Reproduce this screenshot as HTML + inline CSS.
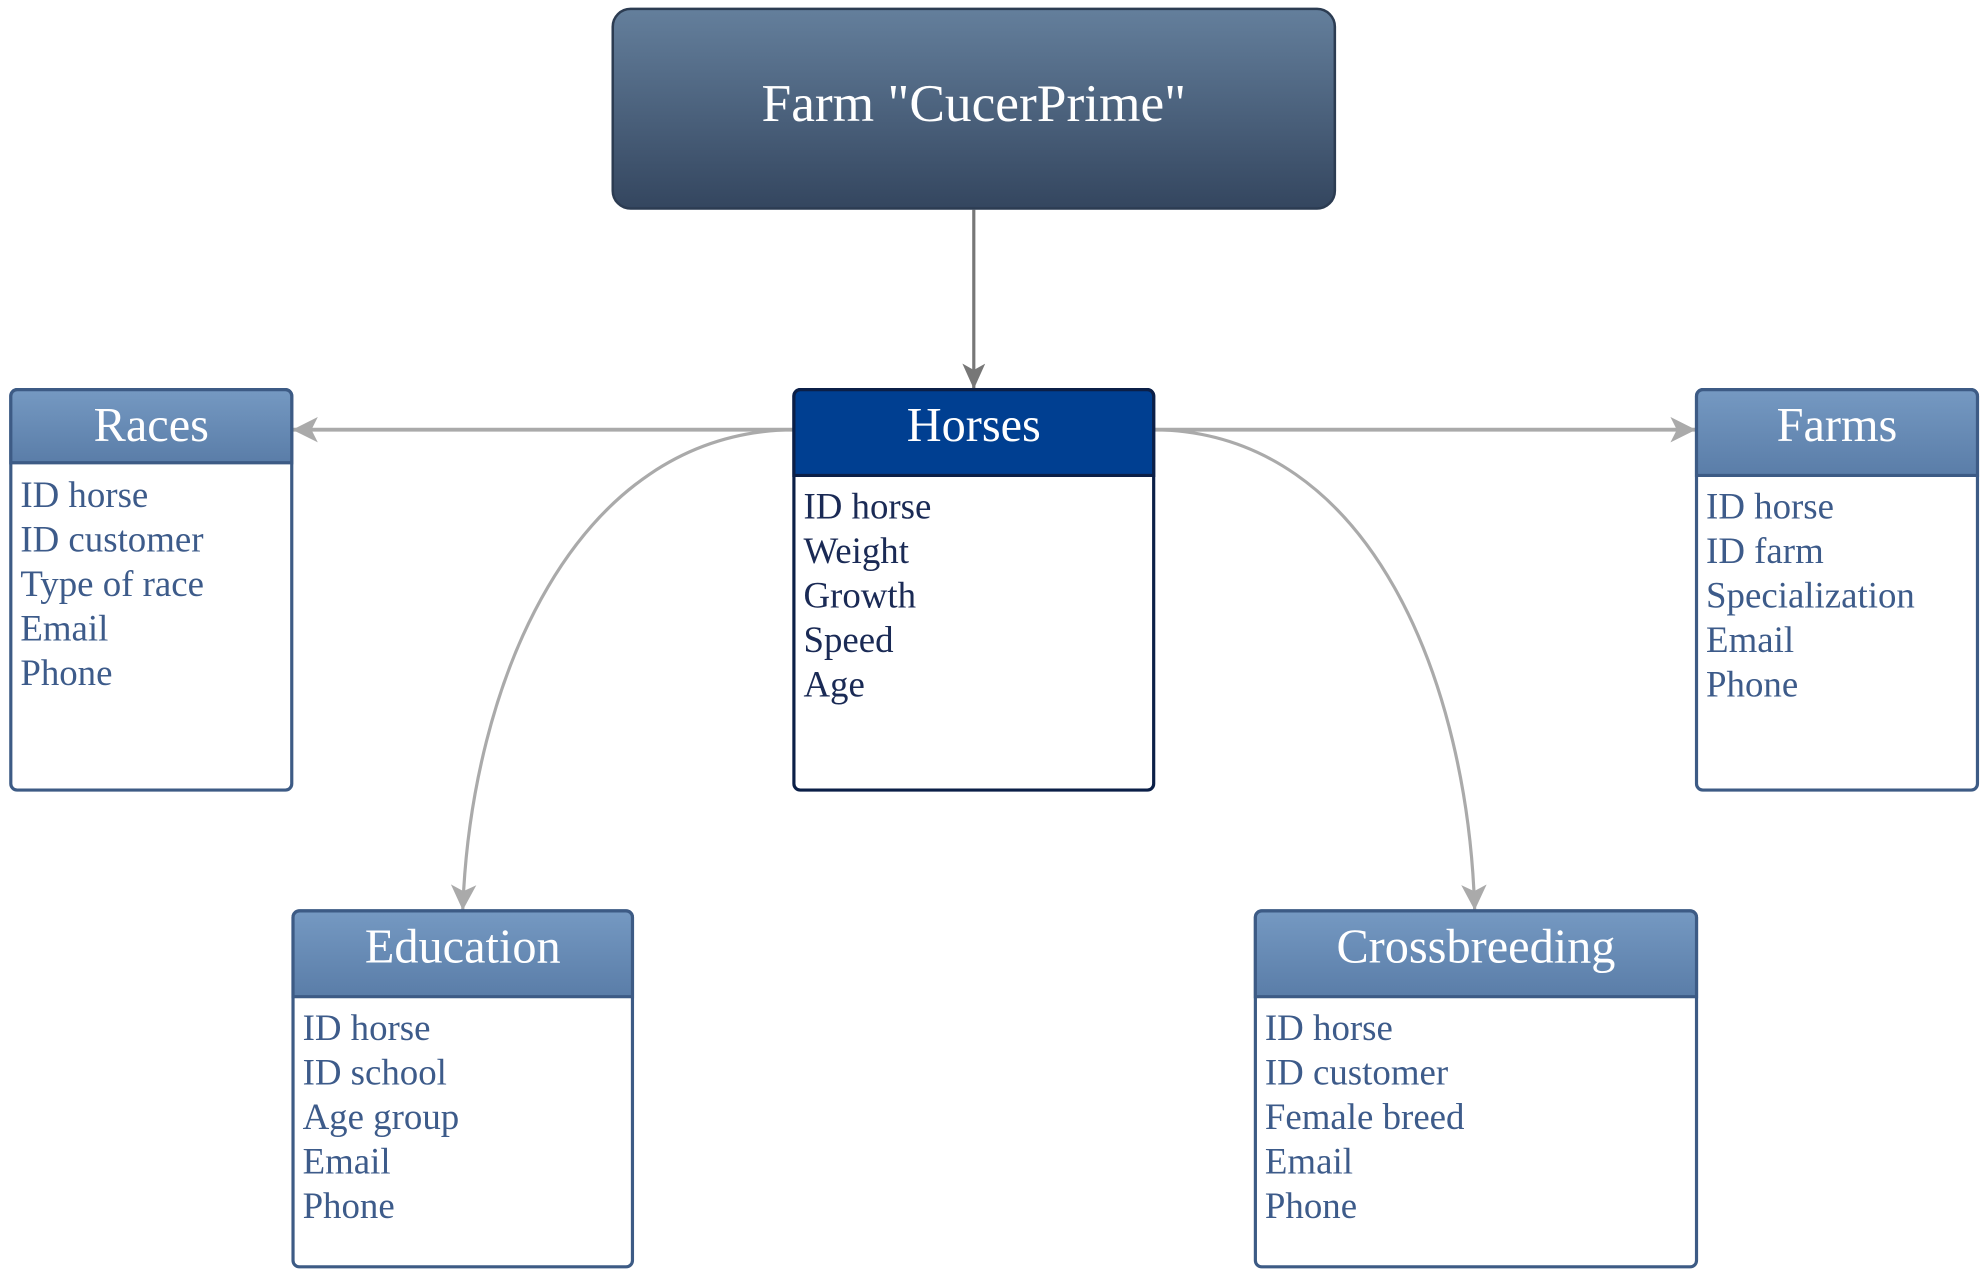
<!DOCTYPE html>
<html><head><meta charset="utf-8"><style>
html,body{margin:0;padding:0;background:#fff;width:1987px;height:1270px;overflow:hidden}
svg{display:block}
text{font-family:"Liberation Serif",serif}
</style></head><body>
<svg width="1987" height="1270" viewBox="0 0 1563 999" preserveAspectRatio="none">
<defs>
<linearGradient id="top" x1="0" y1="0" x2="0" y2="1"><stop offset="0" stop-color="#647f9c"/><stop offset="1" stop-color="#34465f"/></linearGradient>
<linearGradient id="hd" x1="0" y1="0" x2="0" y2="1"><stop offset="0" stop-color="#7599c2"/><stop offset="1" stop-color="#5a7da8"/></linearGradient>
<marker id="ad" markerWidth="22" markerHeight="18" refX="20" refY="9" orient="auto" markerUnits="userSpaceOnUse"><path d="M0,0 L20,9 L0,18 L5,9 z" fill="#777"/></marker>
<marker id="al" markerWidth="22" markerHeight="20" refX="20" refY="10" orient="auto" markerUnits="userSpaceOnUse"><path d="M0,0 L20,10 L0,20 L5,10 z" fill="#aaa"/></marker>
</defs>
<line x1="766" y1="165" x2="766" y2="306" stroke="#777" stroke-width="2.5" marker-end="url(#ad)"/>
<line x1="624" y1="338" x2="230" y2="338" stroke="#aaa" stroke-width="3" marker-end="url(#al)"/>
<line x1="908" y1="338" x2="1334" y2="338" stroke="#aaa" stroke-width="3" marker-end="url(#al)"/>
<path d="M624,338 C450,340 370,540 364,716" fill="none" stroke="#aaa" stroke-width="2.5" marker-end="url(#al)"/>
<path d="M908,338 C1080,340 1155,540 1160,716" fill="none" stroke="#aaa" stroke-width="2.5" marker-end="url(#al)"/>
<rect x="482" y="7" width="568" height="157" rx="14" fill="url(#top)" stroke="#2c3c52" stroke-width="2"/>
<text x="766" y="95" font-size="42" fill="#fff" text-anchor="middle">Farm "CucerPrime"</text>
<rect x="624.5" y="306.5" width="283" height="315" rx="5" fill="#fff" stroke="#0b1f47" stroke-width="2.5"/>
<path d="M624.5,374 V311.5 a5,5 0 0 1 5,-5 H902.5 a5,5 0 0 1 5,5 V374 z" fill="#003f91" stroke="#0b1f47" stroke-width="2.5"/>
<text x="766" y="347" font-size="38" fill="#fff" text-anchor="middle">Horses</text>
<g font-size="29" fill="#1a2a55"><text x="632" y="408">ID horse</text><text x="632" y="443">Weight</text><text x="632" y="478">Growth</text><text x="632" y="513">Speed</text><text x="632" y="548">Age</text></g>
<rect x="8.5" y="306.5" width="221" height="315" rx="5" fill="#fff" stroke="#3d5b85" stroke-width="2.5"/>
<path d="M8.5,364 V311.5 a5,5 0 0 1 5,-5 H224.5 a5,5 0 0 1 5,5 V364 z" fill="url(#hd)" stroke="#3d5b85" stroke-width="2.5"/>
<text x="119" y="347" font-size="38" fill="#fff" text-anchor="middle">Races</text>
<g font-size="29" fill="#3d5b8a"><text x="16" y="399">ID horse</text><text x="16" y="434">ID customer</text><text x="16" y="469">Type of race</text><text x="16" y="504">Email</text><text x="16" y="539">Phone</text></g>
<rect x="1334.5" y="306.5" width="221" height="315" rx="5" fill="#fff" stroke="#3d5b85" stroke-width="2.5"/>
<path d="M1334.5,374 V311.5 a5,5 0 0 1 5,-5 H1550.5 a5,5 0 0 1 5,5 V374 z" fill="url(#hd)" stroke="#3d5b85" stroke-width="2.5"/>
<text x="1445" y="347" font-size="38" fill="#fff" text-anchor="middle">Farms</text>
<g font-size="29" fill="#3d5b8a"><text x="1342" y="408">ID horse</text><text x="1342" y="443">ID farm</text><text x="1342" y="478">Specialization</text><text x="1342" y="513">Email</text><text x="1342" y="548">Phone</text></g>
<rect x="230.5" y="716.5" width="267" height="280" rx="5" fill="#fff" stroke="#3d5b85" stroke-width="2.5"/>
<path d="M230.5,784 V721.5 a5,5 0 0 1 5,-5 H492.5 a5,5 0 0 1 5,5 V784 z" fill="url(#hd)" stroke="#3d5b85" stroke-width="2.5"/>
<text x="364" y="757" font-size="38" fill="#fff" text-anchor="middle">Education</text>
<g font-size="29" fill="#3d5b8a"><text x="238" y="818">ID horse</text><text x="238" y="853">ID school</text><text x="238" y="888">Age group</text><text x="238" y="923">Email</text><text x="238" y="958">Phone</text></g>
<rect x="987.5" y="716.5" width="347" height="280" rx="5" fill="#fff" stroke="#3d5b85" stroke-width="2.5"/>
<path d="M987.5,784 V721.5 a5,5 0 0 1 5,-5 H1329.5 a5,5 0 0 1 5,5 V784 z" fill="url(#hd)" stroke="#3d5b85" stroke-width="2.5"/>
<text x="1161" y="757" font-size="38" fill="#fff" text-anchor="middle">Crossbreeding</text>
<g font-size="29" fill="#3d5b8a"><text x="995" y="818">ID horse</text><text x="995" y="853">ID customer</text><text x="995" y="888">Female breed</text><text x="995" y="923">Email</text><text x="995" y="958">Phone</text></g>
</svg>
</body></html>
